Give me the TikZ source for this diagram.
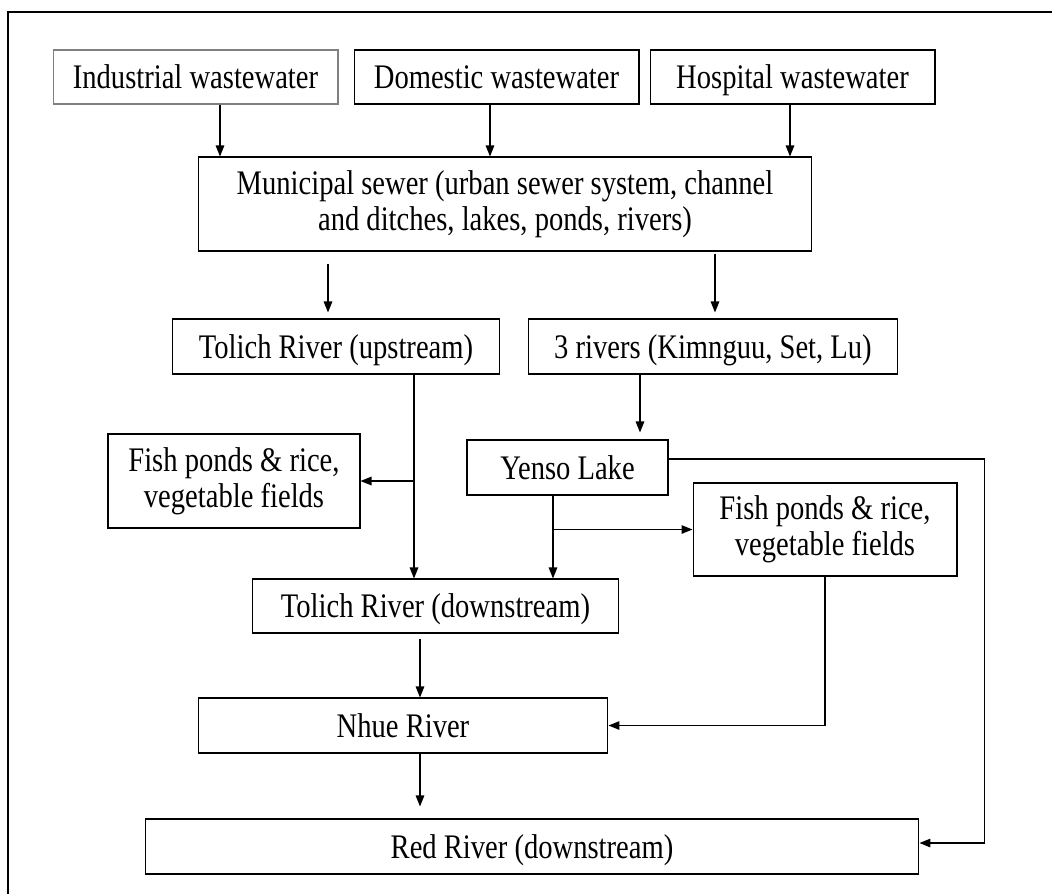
\documentclass[tikz,border=0pt]{standalone}
\usepackage{fontspec}
\setmainfont{Liberation Serif}[FakeStretch=0.83]
\usetikzlibrary{arrows.meta,calc}
\tikzset{
    box/.style={rectangle, draw, line width=0.6pt, inner sep=0mm, align=center,
        font=\fontsize{19.6pt}{20.5pt}\selectfont},
    onebox/.style={box, text height=0.46cm, text depth=0pt},
    arr/.style={line width=0.8pt, -{Triangle[length=0.22cm, width=0.17cm]}}
}

\begin{document}
\begin{tikzpicture}[x=0.02cm, y=-0.02cm]
    \useasboundingbox (0,0) rectangle (1052,894);
    \draw[line width=1.2pt] (1052,12) -- (8,12) -- (8,894);

    \node (ind) [onebox, draw=black!50, minimum width=5.70cm, minimum height=1.08cm] at (195.5, 77) {Industrial wastewater};
    \node (dom) [onebox, minimum width=5.70cm, minimum height=1.08cm] at (496.5, 77) {Domestic wastewater};
    \node (hos) [onebox, minimum width=5.70cm, minimum height=1.08cm] at (792.5, 77) {Hospital wastewater};
    \node (mun) [box, minimum width=12.28cm, minimum height=1.88cm] at (505, 204) {Municipal sewer (urban sewer system, channel\\and ditches, lakes, ponds, rivers)};
    \node (tup) [onebox, minimum width=6.56cm, minimum height=1.10cm] at (336, 346.5) {Tolich River (upstream)};
    \node (three) [onebox, minimum width=7.40cm, minimum height=1.10cm] at (713, 346.5) {3 rivers (Kimnguu, Set, Lu)};
    \node (fishL) [box, minimum width=5.04cm, minimum height=1.88cm] at (234, 481) {Fish ponds \& rice,\\vegetable fields};
    \node (yenso) [onebox, minimum width=4.02cm, minimum height=1.10cm] at (567.5, 467.5) {Yenso Lake};
    \node (fishR) [box, minimum width=5.28cm, minimum height=1.86cm] at (825, 529.5) {Fish ponds \& rice,\\vegetable fields};
    \node (tdown) [onebox, minimum width=7.34cm, minimum height=1.08cm] at (435.5, 606) {Tolich River (downstream)};
    \node (nhue) [onebox, minimum width=8.20cm, minimum height=1.10cm] at (403, 725.5) {Nhue River};
    \node (red) [onebox, minimum width=15.48cm, minimum height=1.10cm] at (532, 846.5) {Red River (downstream)};

    % wastewater into the sewer
    \coordinate (i1) at ($(ind.south)+(24.5,0)$);
    \coordinate (d1) at ($(dom.south)+(-6.5,0)$);
    \coordinate (h1) at ($(hos.south)+(-2.5,0)$);
    \draw[arr] (i1) -- (i1 |- mun.north);
    \draw[arr] (d1) -- (d1 |- mun.north);
    \draw[arr] (h1) -- (h1 |- mun.north);

    \coordinate (m1) at ($(tup.north)+(-8,0)$);
    \coordinate (m2) at ($(three.north)+(2,0)$);
    \draw[arr, shorten <=0.24cm, shorten >=0.12cm] (m1 |- mun.south) -- (m1);
    \draw[arr, shorten <=0.04cm, shorten >=0.12cm] (m2 |- mun.south) -- (m2);

    \coordinate (t1) at ($(yenso.north)+(72.5,0)$);
    \draw[arr, shorten >=0.14cm] (t1 |- three.south) -- (t1);

    % Tolich branch
    \coordinate (u1) at ($(tup.south)+(78,0)$);
    \draw[arr] (u1) -- (u1 |- tdown.north);
    \draw[arr] (u1 |- fishL.east) -- (fishL.east);

    % Yenso branch
    \coordinate (y1) at ($(yenso.south)+(-14.5,0)$);
    \draw[arr] (y1) -- (y1 |- tdown.north);
    \draw[arr] (y1 |- fishR.west) -- (fishR.west);
    \coordinate (y2) at ($(yenso.east)+(0,-8.5)$);
    \coordinate (rt) at ($(red.east)+(65,-3.5)$);
    \draw[arr] (y2) -| (rt) -- (rt -| red.east);
    \draw[arr] (fishR.south) |- (nhue.east);

    \coordinate (n1) at ($(nhue.north)+(17,0)$);
    \draw[arr, shorten <=0.10cm] (n1 |- tdown.south) -- (n1);
    \draw[arr, shorten >=0.24cm] (n1 |- nhue.south) -- (n1 |- red.north);
\end{tikzpicture}
\end{document}
